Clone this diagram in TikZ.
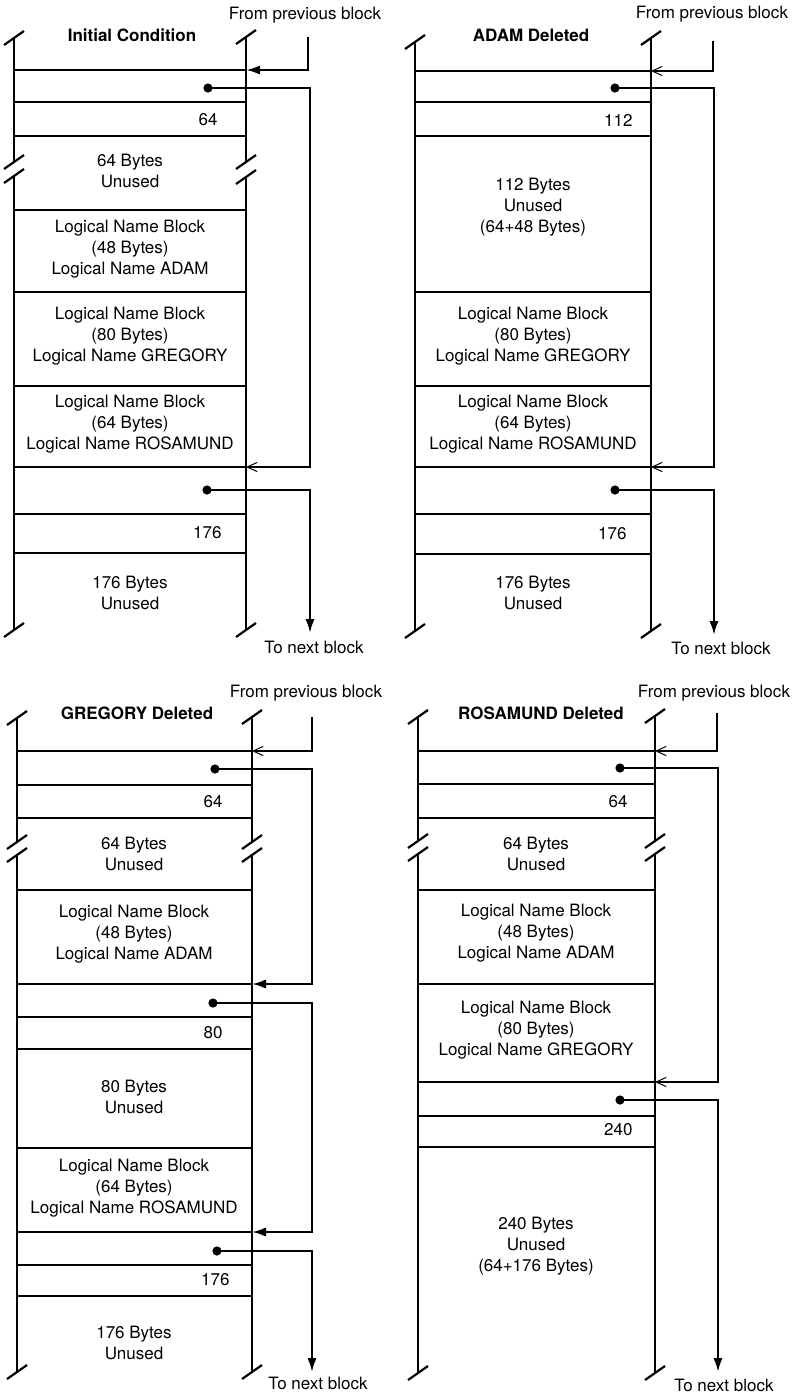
\documentclass[tikz,border=0pt]{standalone}
\usepackage{fontspec}
\setmainfont{TeX Gyre Heros}
\usetikzlibrary{arrows.meta}

\tikzset{
  wall/.style={line width=1.2pt},
  cell/.style={line width=1.2pt},
  txt/.style={align=center,inner sep=0pt,font=\fontsize{8.5}{10.5}\selectfont},
  ttl/.style={inner sep=0pt,font=\bfseries\fontsize{8.5}{10.5}\selectfont},
  num/.style={anchor=east,inner sep=0pt,font=\fontsize{8.5}{10.5}\selectfont},
  link/.style={line width=1.1pt,-{Latex[length=7pt,width=4.6pt]}},
  linkfaint/.style={line width=1.1pt,-{Straight Barb[length=5pt,width=4.6pt,line width=0.5pt]}},
  wallcut/.pic={\draw[line width=1.1pt] (-10,7) -- (10,-7);}
}

\begin{document}
\begin{tikzpicture}[x=0.5pt,y=-0.5pt]
  \useasboundingbox (0,0) rectangle (795,1394);

  % Initial Condition
  \draw[wall] (14,38) -- (14,162) (14,176) -- (14,630);
  \draw[wall] (246,37) -- (246,162) (246,177) -- (246,630);
  \foreach \y in {38,162,176,630} \pic at (14,\y) {wallcut};
  \foreach \y in {37,162,177,630} \pic at (246,\y) {wallcut};
  \foreach \y in {70,102,136,210,292,386,467,514,553} \draw[cell] (14,\y) -- (246,\y);
  \node[ttl] (ttlA) at (132,35) {Initial Condition};
  \node[txt] (fromA) at (305,15) {From previous block};
  \node[num] (sizeA) at (218,120) {64};
  \node[txt] (freeA) at (130,171) {64 Bytes\\Unused};
  \node[txt] (adamA) at (130,249) {Logical Name Block\\(48 Bytes)\\Logical Name ADAM};
  \node[txt] (gregA) at (130,336) {Logical Name Block\\(80 Bytes)\\Logical Name GREGORY};
  \node[txt] (rosaA) at (130,424) {Logical Name Block\\(64 Bytes)\\Logical Name ROSAMUND};
  \node[num] (lastA) at (222,533) {176};
  \node[txt] (tailA) at (130,593) {176 Bytes\\Unused};
  \node[txt] (nextA) at (314,647) {To next block};
  \coordinate (railA) at (310,0);
  \coordinate (inA) at (308,37);
  \coordinate (hdA) at (246,70);
  \coordinate (dotA1) at (208,88);
  \coordinate (hdA2) at (246,467);
  \coordinate (dotA2) at (207,490);
  \coordinate (endA) at (310,633);
  \draw[link] (inA) |- (hdA);
  \draw[linkfaint] (dotA1) -| (hdA2 -| railA) -- (hdA2);
  \draw[link] (dotA2) -| (endA);
  \fill (dotA1) circle (2.3pt) (dotA2) circle (2.3pt);

  % ADAM Deleted
  \draw[wall] (415,42) -- (415,631);
  \draw[wall] (651,38) -- (651,631);
  \pic at (415,42) {wallcut}; \pic at (415,631) {wallcut};
  \pic at (651,38) {wallcut}; \pic at (651,631) {wallcut};
  \foreach \y in {71,102,136,292,386,467,514,554} \draw[cell] (415,\y) -- (651,\y);
  \node[ttl] (ttlB) at (531,35) {ADAM Deleted};
  \node[txt] (fromB) at (712,14) {From previous block};
  \node[num] (sizeB) at (633,120) {112};
  \node[txt] (freeB) at (533,207) {112 Bytes\\Unused\\(64+48 Bytes)};
  \node[txt] (gregB) at (533,336) {Logical Name Block\\(80 Bytes)\\Logical Name GREGORY};
  \node[txt] (rosaB) at (533,424) {Logical Name Block\\(64 Bytes)\\Logical Name ROSAMUND};
  \node[num] (lastB) at (627,534) {176};
  \node[txt] (tailB) at (533,593) {176 Bytes\\Unused};
  \node[txt] (nextB) at (721,648) {To next block};
  \coordinate (railB) at (714,0);
  \coordinate (inB) at (713,41);
  \coordinate (hdB) at (651,71);
  \coordinate (dotB1) at (615,88);
  \coordinate (hdB2) at (651,467);
  \coordinate (dotB2) at (615,490);
  \coordinate (endB) at (714,635);
  \draw[linkfaint] (inB) |- (hdB);
  \draw[linkfaint] (dotB1) -| (hdB2 -| railB) -- (hdB2);
  \draw[link] (dotB2) -| (endB);
  \fill (dotB1) circle (2.3pt) (dotB2) circle (2.3pt);

  % GREGORY Deleted
  \draw[wall] (17,718) -- (17,842) (17,855) -- (17,1372);
  \draw[wall] (252,717) -- (252,842) (252,855) -- (252,1372);
  \foreach \y in {718,842,855,1372} \pic at (17,\y) {wallcut};
  \foreach \y in {717,842,855,1372} \pic at (252,\y) {wallcut};
  \foreach \y in {751,785,818,890,984,1017,1049,1148,1232,1265,1296} \draw[cell] (17,\y) -- (252,\y);
  \node[ttl] (ttlC) at (137,713) {GREGORY Deleted};
  \node[txt] (fromC) at (306,693) {From previous block};
  \node[num] (sizeC) at (223,802) {64};
  \node[txt] (freeC) at (134,854) {64 Bytes\\Unused};
  \node[txt] (adamC) at (134,934) {Logical Name Block\\(48 Bytes)\\Logical Name ADAM};
  \node[num] (midC) at (223,1033) {80};
  \node[txt] (holeC) at (134,1097) {80 Bytes\\Unused};
  \node[txt] (rosaC) at (134,1188) {Logical Name Block\\(64 Bytes)\\Logical Name ROSAMUND};
  \node[num] (lastC) at (230,1280) {176};
  \node[txt] (tailC) at (134,1343) {176 Bytes\\Unused};
  \node[txt] (nextC) at (318,1383) {To next block};
  \coordinate (railC) at (312,0);
  \coordinate (inC) at (312,717);
  \coordinate (hdC) at (252,751);
  \coordinate (dotC1) at (215,769);
  \coordinate (hdC2) at (252,984);
  \coordinate (dotC2) at (213,1003);
  \coordinate (hdC3) at (252,1232);
  \coordinate (dotC3) at (217,1251);
  \coordinate (endC) at (312,1372);
  \draw[linkfaint] (inC) |- (hdC);
  \draw[link] (dotC1) -| (hdC2 -| railC) -- (hdC2);
  \draw[link] (dotC2) -| (hdC3 -| railC) -- (hdC3);
  \draw[link] (dotC3) -| (endC);
  \fill (dotC1) circle (2.3pt) (dotC2) circle (2.3pt) (dotC3) circle (2.3pt);

  % ROSAMUND Deleted
  \draw[wall] (418,717) -- (418,841) (418,854) -- (418,1373);
  \draw[wall] (655,716) -- (655,841) (655,854) -- (655,1373);
  \foreach \y in {717,841,854,1373} \pic at (418,\y) {wallcut};
  \foreach \y in {716,841,854,1373} \pic at (655,\y) {wallcut};
  \foreach \y in {751,784,818,890,984,1082,1116,1147} \draw[cell] (418,\y) -- (655,\y);
  \node[ttl] (ttlD) at (541,713) {ROSAMUND Deleted};
  \node[txt] (fromD) at (714,693) {From previous block};
  \node[num] (sizeD) at (628,802) {64};
  \node[txt] (freeD) at (536,854) {64 Bytes\\Unused};
  \node[txt] (adamD) at (536,933) {Logical Name Block\\(48 Bytes)\\Logical Name ADAM};
  \node[txt] (gregD) at (536,1030) {Logical Name Block\\(80 Bytes)\\Logical Name GREGORY};
  \node[num] (lastD) at (633,1130) {240};
  \node[txt] (tailD) at (536,1246) {240 Bytes\\Unused\\(64+176 Bytes)};
  \node[txt] (nextD) at (724,1385) {To next block};
  \coordinate (railD) at (718,0);
  \coordinate (inD) at (717,713);
  \coordinate (hdD) at (655,751);
  \coordinate (dotD1) at (620,768);
  \coordinate (hdD2) at (655,1082);
  \coordinate (dotD2) at (620,1100);
  \coordinate (endD) at (718,1372);
  \draw[linkfaint] (inD) |- (hdD);
  \draw[linkfaint] (dotD1) -| (hdD2 -| railD) -- (hdD2);
  \draw[link] (dotD2) -| (endD);
  \fill (dotD1) circle (2.3pt) (dotD2) circle (2.3pt);
\end{tikzpicture}
\end{document}
